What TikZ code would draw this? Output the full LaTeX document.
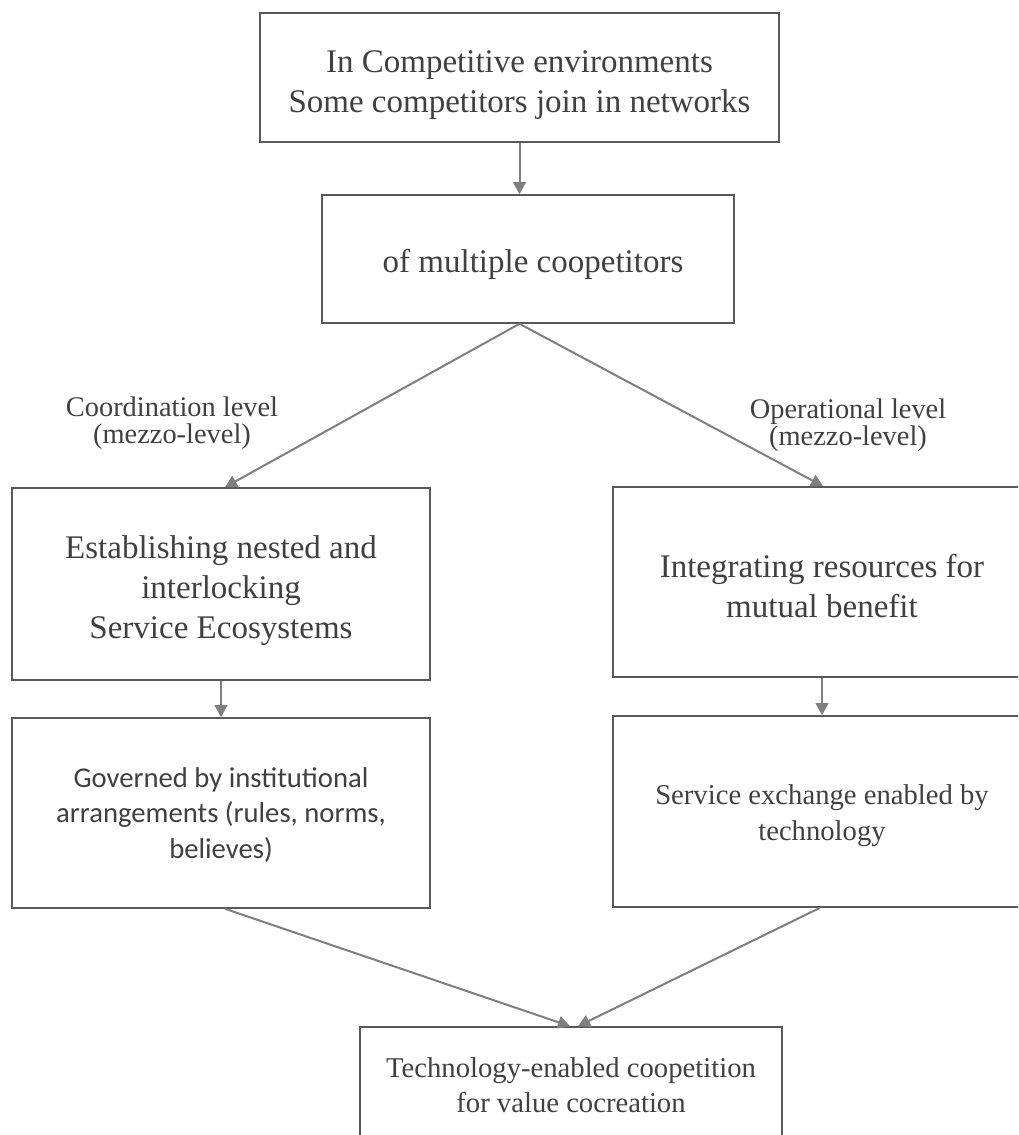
\documentclass[tikz,border=0pt]{standalone}
\usepackage{fontspec}
\setmainfont{Liberation Serif}
\newfontfamily\calfont{Carlito}
\usetikzlibrary{arrows.meta,calc}
\definecolor{txt}{HTML}{404040}
\definecolor{boxc}{HTML}{595959}
\definecolor{linec}{HTML}{7F7F7F}
\begin{document}
\begin{tikzpicture}[x=0.75pt,y=-0.75pt,
  box/.style={draw=boxc,line width=1.2pt,rectangle,inner sep=0pt},
  tx/.style={align=center,text=txt,inner sep=0pt},
  big/.style={tx,font=\fontsize{24.75pt}{30pt}\selectfont},
  small/.style={tx,font=\fontsize{21.5pt}{26.5pt}\selectfont},
  cal/.style={tx,font=\calfont\fontsize{21.5pt}{26.5pt}\selectfont},
  lbl/.style={align=center,text=txt,font=\fontsize{21.3pt}{20.5pt}\selectfont,inner sep=0pt},
  arr/.style={draw=linec,line width=1.5pt,-{Triangle[length=9pt,width=9.5pt]}}]
\path[use as bounding box] (0,0) rectangle (1018,1135);
\clip (0,0) rectangle (1018,1135);
\node[box,minimum width=389.25pt,minimum height=96.75pt] (b1) at (519.5,77.5) {};
\node[box,minimum width=309pt,minimum height=96pt] (b2) at (528,259) {};
\node[box,minimum width=313.5pt,minimum height=144pt] (b3) at (221,584) {};
\node[box,minimum width=313.5pt,minimum height=142.5pt] (b4) at (822,582) {};
\node[box,minimum width=313.5pt,minimum height=142.5pt] (b5) at (221,813) {};
\node[box,minimum width=313.5pt,minimum height=143.25pt] (b6) at (822,811.5) {};
\node[box,minimum width=316.5pt,minimum height=87pt] (b7) at (571,1085) {};
\node[big] (t1) at ($(b1)+(0,8)$) {In Competitive environments\\Some competitors join in networks};
\node[big] (t2) at ($(b2)+(5,5)$) {of multiple coopetitors};
\node[big] (t3) at ($(b3)+(0,7)$) {Establishing nested and\\interlocking\\Service Ecosystems};
\node[big] (t4) at ($(b4)+(0,4)$) {Integrating resources for\\mutual benefit};
\node[cal] (t5) at ($(b5)+(0,2)$) {Governed by institutional\\arrangements (rules, norms,\\believes)};
\node[small] (t6) at ($(b6)+(0,4)$) {Service exchange enabled by\\technology};
\node[small] (t7) at (b7) {Technology-enabled coopetition\\for value cocreation};
\node[lbl] (l1) at (172,423) {Coordination level\\(mezzo-level)};
\node[lbl] (l2) at (848,425) {Operational level\\(mezzo-level)};
\coordinate (split) at (b2.south -| b1.south);
\draw[arr] (b1.south) -- (b1.south |- b2.north);
\draw[arr] (split) -- ($(b3.north)+(4,0)$);
\draw[arr] (split) -- ($(b4.north)+(1,0)$);
\draw[arr] (b3.south) -- (b5.north);
\draw[arr] (b4.south) -- (b6.north);
\draw[arr] ($(b5.south)+(4,0)$) -- ($(b7.north)+(-1,0)$);
\draw[arr] ($(b6.south)+(-2,0)$) -- ($(b7.north)+(7,0)$);
\end{tikzpicture}
\end{document}
